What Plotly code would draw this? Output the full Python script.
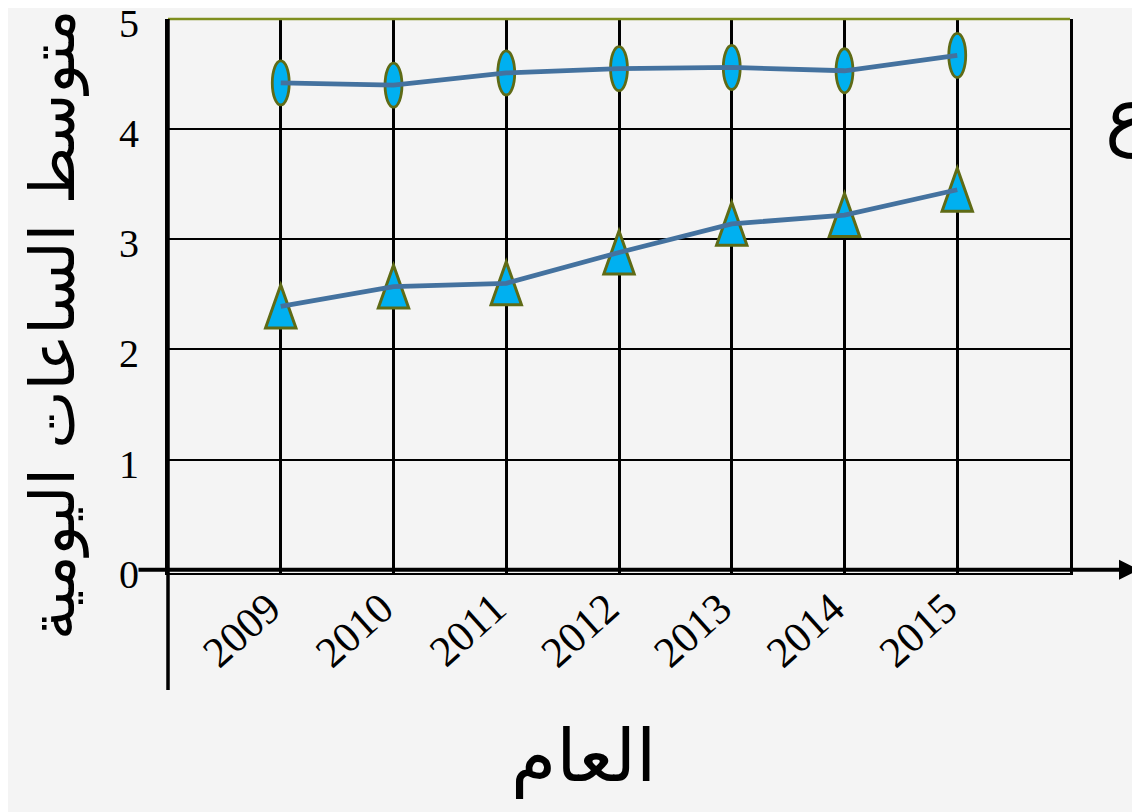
import plotly.graph_objects as go

years = [2009, 2010, 2011, 2012, 2013, 2014, 2015]
series_ellipse = [4.42, 4.40, 4.51, 4.55, 4.56, 4.53, 4.67]
series_triangle = [2.39, 2.57, 2.60, 2.88, 3.14, 3.22, 3.45]
year_labels = [str(y) for y in years]
y_ticks = [0, 1, 2, 3, 4, 5]

BG = "#f4f4f4"
LINE = "#44729f"
FILL = "#00b0f0"
EDGE = "#5f6b16"

fig = go.Figure()

fig.add_trace(go.Scatter(x=years, y=series_ellipse, mode="lines",
                         line=dict(color=LINE, width=4.8), showlegend=False,
                         hoverinfo="x+y"))
fig.add_trace(go.Scatter(x=years, y=series_triangle, mode="lines",
                         line=dict(color=LINE, width=4.8), showlegend=False,
                         hoverinfo="x+y"))

shapes = []
# ellipse markers (data coordinates)
ew, eh = 0.075, 0.2
for x, v in zip(years, series_ellipse):
    shapes.append(dict(type="circle", xref="x", yref="y",
                       x0=x - ew, x1=x + ew, y0=v - eh, y1=v + eh,
                       fillcolor=FILL, line=dict(color=EDGE, width=2.8),
                       layer="between"))
# triangle markers (data coordinates)
tw, th = 0.135, 0.195
for x, v in zip(years, series_triangle):
    path = f"M {x - tw},{v - th} L {x + tw},{v - th} L {x},{v + th} Z"
    shapes.append(dict(type="path", xref="x", yref="y", path=path,
                       fillcolor=FILL, line=dict(color=EDGE, width=3),
                       layer="between"))
# olive top line
shapes.append(dict(type="line", xref="paper", yref="paper", x0=0, x1=1, y0=1, y1=1,
                   line=dict(color="#7f8f1f", width=2.5), layer="above"))
# extended left axis line
shapes.append(dict(type="line", xref="paper", yref="paper", x0=0, x1=0,
                   y0=1, y1=-0.211, line=dict(color="black", width=3.5),
                   layer="above"))

annotations = [
    # x axis arrow
    dict(xref="paper", yref="y", x=1.0776, y=0, ax=-1003, ay=0,
         axref="pixel", ayref="pixel", showarrow=True, arrowhead=2,
         arrowsize=1, arrowwidth=4, arrowcolor="black", text=""),
    # y axis title
    dict(xref="paper", yref="paper", x=-0.128, y=0.448, xanchor="center",
         yanchor="middle", text="متوسط الساعات اليومية", textangle=-90,
         showarrow=False, font=dict(family="DejaVu Sans", size=62, color="black")),
    # x axis title
    dict(xref="paper", yref="paper", x=0.461, y=-0.33, xanchor="center",
         yanchor="middle", text="العام", showarrow=False,
         font=dict(family="DejaVu Sans", size=73, color="black")),
    # cut-off letter at right
    dict(xref="paper", yref="paper", x=1.037, y=0.825, xanchor="left",
         yanchor="middle", text="ع", showarrow=False,
         font=dict(family="DejaVu Sans", size=74, color="black")),
]

# the page body adds an 8px offset; the figure is sized to fill the rest
fig.update_layout(
    width=1132, height=804,
    paper_bgcolor=BG, plot_bgcolor=BG,
    margin=dict(l=160, r=70, t=11, b=239, autoexpand=False),
    shapes=shapes, annotations=annotations,
    xaxis=dict(range=[2008, 2016], tickmode="array", tickvals=years,
               ticktext=year_labels, tickangle=-42, showgrid=True,
               gridcolor="black", gridwidth=2.5, zeroline=False,
               showline=True, linecolor="black", linewidth=2, mirror=False,
               ticks="", ticklabelstandoff=-9, ticklabelshift=-12,
               automargin=False,
               tickfont=dict(family="Liberation Serif", size=43, color="black")),
    yaxis=dict(range=[-0.03, 5], tickmode="array", tickvals=y_ticks,
               showgrid=True, gridcolor="black", gridwidth=2, zeroline=False,
               showline=True, linecolor="black", linewidth=3, mirror=True,
               ticks="", ticklabelstandoff=18, ticklabelshift=4,
               automargin=False, ticklabeloverflow="allow",
               tickfont=dict(family="Liberation Serif", size=40, color="black")),
)

fig.write_html("out.html")
